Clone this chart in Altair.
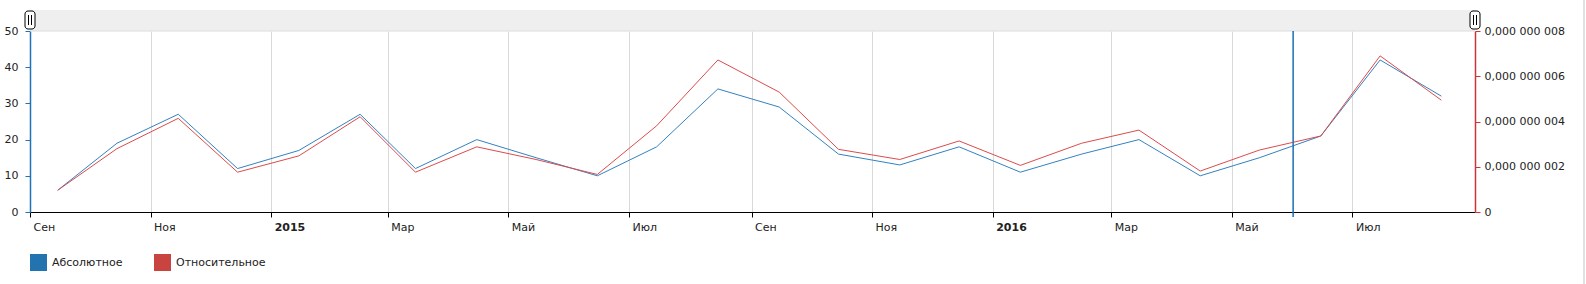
import altair as alt
import pandas as pd

# ---- data ----
dates = ["2014-09-15", "2014-10-15", "2014-11-15", "2014-12-15",
         "2015-01-15", "2015-02-15", "2015-03-15", "2015-04-15",
         "2015-05-15", "2015-06-15", "2015-07-15", "2015-08-15",
         "2015-09-15", "2015-10-15", "2015-11-15", "2015-12-15",
         "2016-01-15", "2016-02-15", "2016-03-15", "2016-04-15",
         "2016-05-15", "2016-06-15", "2016-07-15", "2016-08-15"]
absolute = [6, 19, 27, 12, 17, 27, 12, 20, 15, 10, 18, 34,
            29, 16, 13, 18, 11, 16, 20, 10, 15, 21, 42, 32]
relative = [0.96e-9, 2.80e-9, 4.14e-9, 1.76e-9, 2.48e-9, 4.21e-9,
            1.76e-9, 2.88e-9, 2.32e-9, 1.66e-9, 3.81e-9, 6.72e-9,
            5.30e-9, 2.77e-9, 2.32e-9, 3.14e-9, 2.06e-9, 3.04e-9,
            3.62e-9, 1.81e-9, 2.74e-9, 3.36e-9, 6.90e-9, 4.94e-9]
series_names = ["Абсолютное", "Относительное"]
month_names = ["Янв", "Фев", "Мар", "Апр", "Май", "Июн",
               "Июл", "Авг", "Сен", "Окт", "Ноя", "Дек"]
tick_months = [(2014, 9), (2014, 11), (2015, 1), (2015, 3), (2015, 5), (2015, 7),
               (2015, 9), (2015, 11), (2016, 1), (2016, 3), (2016, 5), (2016, 7)]
left_ticks = [0, 10, 20, 30, 40, 50]
right_ticks = [0, 2e-9, 4e-9, 6e-9, 8e-9]
cursor_date = (2016, 6, 1)

# ---- styling ----
FONT = "DejaVu Sans"
BLUE = "#3382c0"
RED = "#dc4b4b"
AXIS_BLUE = "#1f72b5"
AXIS_RED = "#cc3535"
LEG_BLUE = "#2373b0"
LEG_RED = "#c94440"
W, H = 1445, 181

df = pd.DataFrame({"date": pd.to_datetime(dates), "abs": absolute, "rel": relative})

names_js = "[" + ",".join("'%s'" % m for m in month_names) + "]"
x_label_expr = ("month(datum.value) == 0 ? timeFormat(datum.value, '%Y') : "
                + names_js + "[month(datum.value)]")

x_enc = alt.X(
    "date:T",
    scale=alt.Scale(domain=[alt.DateTime(year=2014, month=9, date=1),
                            alt.DateTime(year=2016, month=9, date=1)]),
    axis=alt.Axis(
        values=[alt.DateTime(year=y, month=m, date=1) for y, m in tick_months],
        labelExpr=x_label_expr,
        labelFontWeight=alt.condition("month(datum.value) == 0",
                                      alt.value("bold"), alt.value("normal")),
        labelFont=FONT, labelFontSize=11, labelColor="#222",
        labelAlign="left", labelOffset=3, labelPadding=4,
        labelFlush=False, labelOverlap=False,
        grid=True, gridColor="#d9d9d9", gridWidth=1,
        domainColor="#000", domainWidth=1.2,
        tickColor="#000", tickSize=5, title=None,
    ),
)

blue = alt.Chart(df).mark_line(color=BLUE, strokeWidth=1).encode(
    x=x_enc,
    y=alt.Y("abs:Q", scale=alt.Scale(domain=[0, 50]),
            axis=alt.Axis(values=left_ticks, domainColor=AXIS_BLUE, domainWidth=1.5,
                          tickColor=AXIS_BLUE, tickSize=5, labelPadding=7,
                          labelFont=FONT, labelFontSize=11, labelColor="#222",
                          grid=False, title=None)),
)

red = alt.Chart(df).mark_line(color=RED, strokeWidth=1).encode(
    x=x_enc,
    y=alt.Y("rel:Q", scale=alt.Scale(domain=[0, 8e-9]),
            axis=alt.Axis(orient="right", values=right_ticks,
                          labelExpr="datum.value == 0 ? '0' : '0,000 000 00' + format(datum.value * 1e9, '.0f')",
                          domainColor=AXIS_RED, domainWidth=1.5,
                          tickColor=AXIS_RED, tickSize=5, labelPadding=4,
                          labelFont=FONT, labelFontSize=11, labelColor="#222",
                          grid=False, title=None)),
)

one = pd.DataFrame({"a": [0]})

cursor = alt.Chart(one).mark_rule(color="#1b6fb3", strokeWidth=1.5).encode(
    x=alt.datum(alt.DateTime(year=cursor_date[0], month=cursor_date[1], date=cursor_date[2])),
    y=alt.value(0), y2=alt.value(H + 5),
)

band = alt.Chart(one).mark_rect(color="#efefef").encode(
    x=alt.value(0), x2=alt.value(W), y=alt.value(-21), y2=alt.value(0))
band_line = alt.Chart(one).mark_rule(color="#dcdcdc").encode(
    x=alt.value(0), x2=alt.value(W), y=alt.value(0))

page_edge = alt.Chart(one).mark_rule(color="#e2e2e2", strokeWidth=2).encode(
    x=alt.value(W + 109), y=alt.value(-31), y2=alt.value(H + 72))

handles = []
for cx in (0, W):
    handles.append(alt.Chart(one).mark_rect(fill="white", stroke="#000", strokeWidth=1,
                                            cornerRadius=3).encode(
        x=alt.value(cx - 5), x2=alt.value(cx + 5), y=alt.value(-20), y2=alt.value(-2)))
    for dx in (-1.5, 1.5):
        handles.append(alt.Chart(one).mark_rule(color="#000", strokeWidth=1).encode(
            x=alt.value(cx + dx), y=alt.value(-16), y2=alt.value(-6)))

legend_df = pd.DataFrame({"series": series_names})
legend_layer = alt.Chart(legend_df).transform_filter("false").mark_square(
    filled=True, size=289, opacity=1).encode(
    color=alt.Color("series:N",
                    scale=alt.Scale(domain=series_names, range=[LEG_BLUE, LEG_RED]),
                    legend=alt.Legend(orient="none", legendX=0, legendY=223,
                                      direction="horizontal", title=None,
                                      symbolType="square", symbolSize=289,
                                      symbolStrokeWidth=0, symbolOpacity=1,
                                      labelFont=FONT, labelFontSize=11,
                                      labelColor="#222", labelOffset=5,
                                      columnPadding=31, padding=0)),
)

chart = alt.layer(band, band_line, page_edge, blue, red, cursor, *handles, legend_layer).resolve_scale(
    y="independent"
).properties(
    width=W, height=H,
    padding={"left": 30, "top": 31, "right": 111, "bottom": 72},
    autosize=alt.AutoSizeParams(type="none"),
    background="white",
).configure_view(stroke=None)

chart.save("out.html", embed_options={"renderer": "svg", "actions": False})
